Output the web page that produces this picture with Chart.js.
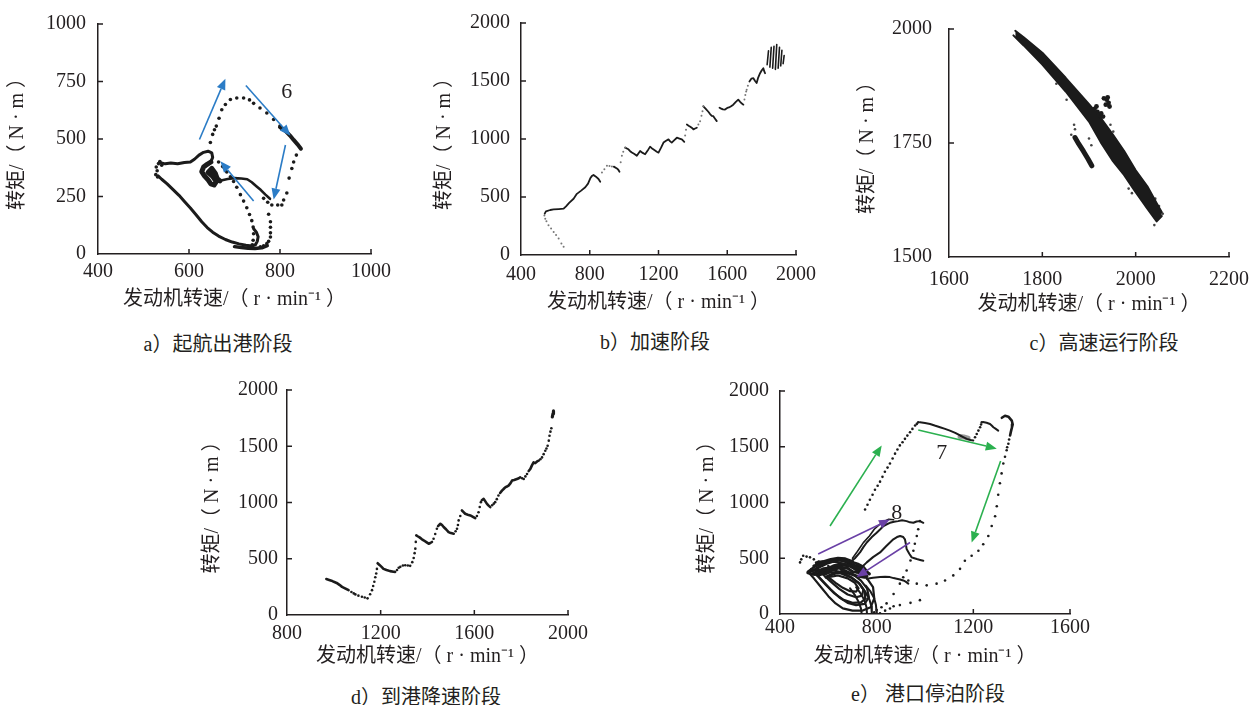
<!DOCTYPE html>
<html lang="zh">
<head>
<meta charset="utf-8">
<title>各航行阶段发动机转速-转矩分布</title>
<script src="https://cdn.jsdelivr.net/npm/chart.js@4.4.1/dist/chart.umd.min.js"></script>
<style>
  html, body { margin: 0; padding: 0; background: #fff; }
  body { width: 1260px; height: 705px; position: relative; overflow: hidden; }
  canvas { position: absolute; }
  .caption {
    position: absolute; transform: translate(-50%, -50%); white-space: nowrap;
    font: 20px 'Liberation Serif', 'Noto Sans CJK SC', serif; color: #231f20;
  }
</style>
</head>
<body>
<canvas id="chart-a"></canvas>
<canvas id="chart-b"></canvas>
<canvas id="chart-c"></canvas>
<canvas id="chart-d"></canvas>
<canvas id="chart-e"></canvas>
<div class="caption" style="left:218px;top:342px">a）起航出港阶段</div>
<div class="caption" style="left:655px;top:340px">b）加速阶段</div>
<div class="caption" style="left:1104px;top:341px">c）高速运行阶段</div>
<div class="caption" style="left:426px;top:695px">d）到港降速阶段</div>
<div class="caption" style="left:928px;top:692px">e） 港口停泊阶段</div>
<script>
// axis ticks [min, max, step]
const aXTicks = [400, 1000, 200], aYTicks = [0, 1000, 250];
const bXTicks = [400, 2000, 400], bYTicks = [0, 2000, 500];
const cXTicks = [1600, 2200, 200], cYTicks = [1500, 2000, 250];
const dXTicks = [800, 2000, 400], dYTicks = [0, 2000, 500];
const eXTicks = [400, 1600, 400], eYTicks = [0, 2000, 500];

const X_TITLE = '发动机转速/（ r · min⁻¹ ）';
const Y_TITLE = '转矩/（ N · m ）';

// a) 起航出港阶段  [转速, 转矩]
const aTailDots = [[531,335],[527,345],[530,362],[528,378],[533,393],[536,402],[540,386]];
const aBand = [[535,398],[548,392],[560,396],[575,392],[590,398],[603,400],[612,412],[622,430],[632,442],[642,447],[650,440],[652,420],[648,400]];
const aBlob = [[648,400],[640,390],[632,378],[628,358],[634,340],[642,322],[648,305],[655,300],[660,315],[652,338],[642,355],[650,372],[658,350],[662,328],[668,318]];
const aReturn = [[668,318],[685,326],[700,330],[715,328],[728,325],[738,312],[748,295],[758,278],[768,258],[778,240]];
const aLowerLeft = [[532,340],[540,325],[552,305],[565,280],[578,255],[590,228],[603,200],[615,172],[628,140],[640,115],[652,95],[665,78],[680,63],[695,52],[710,44],[725,38],[738,35],[746,40],[750,55],[752,75],[748,95],[742,110]];
const aBottom = [[700,32],[715,28],[730,25],[745,24],[760,27],[772,36]];
const aMidDots = [[665,400],[674,380],[683,357],[691,336],[698,315],[705,290],[713,258],[720,230],[727,201],[733,172],[738,145],[741,117],[742,88],[741,60],[739,40]];
const aUpperDots = [[647,485],[652,520],[656,540],[660,556],[666,590],[672,627],[680,650],[691,672],[705,678],[720,678],[733,670],[742,655],[756,635],[771,613],[786,585],[800,556]];
const aTip = [[800,552],[812,535],[822,515],[830,496],[838,478],[846,458]];
const aRightDots = [[836,430],[830,400],[826,372],[820,330],[815,265],[808,235],[804,213],[795,213],[782,213],[773,225],[764,242]];
const aLowerRightDots = [[775,173],[779,140],[779,116],[779,92],[779,74],[775,55],[771,45],[764,36],[757,31]];
const aArrows = [[[623,498],[680,762]], [[725,733],[823,514]], [[812,474],[786,237]], [[742,230],[669,403]]];
const aLabels = [['6', 815, 705]];

// b) 加速阶段
const bDots1 = [[648,71],[635,100],[619,143],[604,172],[590,199],[575,228],[560,256],[548,290],[541,313],[536,340]];
const bSeg1 = [[538,356],[545,376],[570,388],[590,393],[620,396],[648,399],[662,420],[680,450],[706,485],[725,527],[750,555],[774,584],[790,615],[803,661],[812,680],[822,690],[836,675],[851,655],[861,632]];
const bDots2 = [[871,712],[885,740],[900,769],[915,768],[929,764]];
const bSeg2 = [[940,762],[958,746],[966,735],[973,718]];
const bDots3 = [[980,800],[987,855],[995,890],[1006,926]];
const bSeg3 = [[1006,926],[1016,918],[1025,911],[1035,895],[1045,883],[1060,870],[1074,855],[1084,878],[1093,897],[1108,880],[1122,869],[1137,900],[1151,934],[1165,915],[1180,900],[1190,890],[1200,883],[1215,925],[1229,969],[1244,985],[1258,997],[1268,980],[1277,969],[1292,990],[1307,1011],[1322,1004],[1336,997],[1350,975]];
const bDots4 = [[1355,1030],[1360,1080]];
const bSeg4 = [[1365,1125],[1375,1115],[1385,1106],[1395,1095],[1403,1083],[1413,1090],[1423,1097]];
const bDots5 = [[1432,1125],[1442,1154],[1450,1200],[1456,1240],[1461,1282]];
const bSeg5 = [[1461,1282],[1475,1260],[1490,1235],[1500,1215],[1510,1200],[1519,1197],[1529,1175],[1539,1154]];
const bSeg6 = [[1555,1270],[1565,1262],[1575,1255],[1587,1254],[1600,1268],[1610,1272],[1620,1280],[1635,1296],[1650,1320],[1664,1339],[1675,1320],[1685,1305],[1694,1296]];
const bDots6 = [[1700,1340],[1705,1380],[1710,1410],[1713,1425],[1720,1460]];
const bSeg7 = [[1729,1496],[1740,1520],[1752,1524],[1762,1500],[1771,1482],[1780,1530],[1791,1567],[1800,1590],[1810,1610],[1815,1585],[1820,1567]];
const bHatch = [
  [[1832,1640],[1840,1760]], [[1848,1620],[1856,1790]], [[1864,1610],[1872,1800]],
  [[1880,1600],[1888,1815]], [[1896,1610],[1904,1790]], [[1911,1630],[1918,1765]], [[1925,1650],[1931,1720]]
];

// c) 高速运行阶段
const cUpper = [[1742,1996],[1760,1982],[1800,1948],[1850,1893],[1900,1835],[1925,1805],[1950,1770],[1975,1733],[2000,1690],[2025,1655],[2045,1618],[2056,1598]];
const cLower = [[1738,1986],[1760,1964],[1800,1922],[1850,1863],[1900,1797],[1925,1752],[1950,1712],[1975,1680],[2000,1642],[2025,1606],[2045,1578],[2056,1590]];
const cSideLow = [[1870,1762],[1878,1748],[1888,1732],[1898,1715],[1906,1700]];
const cSideUp = [[1932,1848],[1938,1845],[1942,1838],[1936,1834],[1944,1830],[1940,1850],[1912,1825],[1918,1818],[1924,1812],[1916,1830],[1926,1815],[1930,1808]];
const cNoise = [[1868,1790],[1870,1780],[1862,1768],[1930,1795],[1946,1790],[1940,1772],[1952,1775],[1905,1745],[1900,1760],[2015,1652],[2020,1640],[2030,1632],[2042,1628],[2050,1612],[2058,1595],[2040,1570],[1985,1650],[1992,1640],[1852,1845],[1830,1880]];

// d) 到港降速阶段
const dSeg1 = [[968,320],[980,312],[990,305],[1000,295],[1012,285],[1024,268],[1035,250],[1050,235],[1063,221]];
const dDots1 = [[1075,205],[1085,192],[1092,183],[1105,172],[1120,162],[1132,155],[1144,148],[1155,185],[1163,221],[1168,258],[1173,295],[1177,335],[1181,369],[1184,410]];
const dSeg2 = [[1187,460],[1195,445],[1205,425],[1212,410],[1225,400],[1240,390],[1255,385],[1262,383]];
const dDots2 = [[1270,400],[1277,420],[1284,428],[1295,440],[1305,442],[1316,440],[1326,437],[1335,470],[1341,507],[1345,550],[1348,590],[1350,650]];
const dSeg3 = [[1352,708],[1358,700],[1366,690],[1375,675],[1385,662],[1395,648],[1405,634],[1412,640],[1419,649]];
const dDots3 = [[1426,678],[1433,720],[1440,767]];
const dSeg4 = [[1445,790],[1455,811],[1462,800],[1469,782],[1480,760],[1490,737],[1500,728],[1512,723]];
const dDots4 = [[1520,745],[1526,767],[1530,800],[1533,841],[1540,880]];
const dSeg5 = [[1547,929],[1554,915],[1561,900],[1572,892],[1583,885],[1594,873],[1604,861]];
const dDots5 = [[1611,880],[1618,914],[1623,960],[1628,1003]];
const dSeg6 = [[1632,1020],[1640,1032],[1647,1010],[1654,988],[1661,972],[1668,959]];
const dDots6 = [[1676,975],[1683,990],[1689,1003],[1696,1030],[1703,1062]];
const dSeg7 = [[1710,1085],[1718,1106],[1725,1120],[1732,1135],[1739,1142],[1746,1150],[1754,1170],[1761,1195],[1770,1200],[1782,1209],[1790,1215],[1796,1224]];
const dDots7 = [[1804,1215],[1811,1209],[1818,1232],[1825,1254]];
const dSeg8 = [[1832,1280],[1839,1298],[1846,1330],[1853,1357],[1860,1350],[1868,1365],[1875,1372]];
const dDots8 = [[1882,1385],[1889,1401],[1896,1430],[1903,1460],[1908,1480],[1913,1504],[1918,1550],[1921,1593],[1925,1630],[1929,1660]];
const dSeg9 = [[1933,1760],[1936,1790],[1938,1814]];

// e) 港口停泊阶段
const eUpDots = [[752,937],[762,980],[772,1025],[783,1070],[793,1114],[804,1150],[814,1187],[824,1230],[834,1276],[845,1313],[855,1350],[866,1395],[876,1438],[886,1475],[896,1512],[907,1540],[917,1571],[927,1600],[938,1630],[948,1660],[959,1690],[966,1705],[972,1719]];
const eTop = [[979,1719],[1000,1712],[1021,1704],[1040,1690],[1062,1675],[1083,1660],[1103,1645],[1125,1625],[1145,1601],[1160,1585],[1173,1571],[1188,1560],[1200,1557]];
const eGray = [[1145,1592],[1160,1588],[1178,1578]];
const eRiseDots = [[1207,1585],[1214,1615],[1221,1645],[1228,1675],[1232,1700],[1235,1719]];
const eZ = [[1240,1722],[1255,1715],[1269,1704],[1276,1690],[1283,1675],[1293,1660],[1303,1645]];
const eHook = [[1318,1760],[1331,1778],[1345,1770],[1359,1734],[1363,1700],[1360,1675],[1356,1640],[1352,1601]];
const eRightDots = [[1348,1565],[1345,1527],[1340,1495],[1338,1468],[1331,1410],[1324,1350],[1317,1261],[1310,1172],[1303,1069],[1297,966],[1290,877],[1276,789],[1262,700],[1241,626],[1221,567],[1193,523],[1165,478],[1145,405],[1117,346],[1083,301],[1048,272],[1007,257],[966,272],[931,301]];
const eLowDots = [[979,833],[972,760],[966,700],[958,630],[952,567],[940,480],[924,390],[910,330],[896,272],[870,180],[841,95],[820,60],[800,35],[790,15]];
const eBottomDots = [[979,124],[940,100],[896,80],[870,70],[855,50],[835,30],[814,6]];
const eLeftDots = [[483,463],[488,490],[496,523],[510,515],[524,508],[540,490],[560,470],[579,449],[600,430],[620,415],[635,405],[655,390],[676,375]];
const eLine1 = [[690,463],[710,500],[731,552],[745,600],[759,641],[780,690],[800,729],[815,760],[828,789],[842,805],[855,818],[872,828],[889,833],[905,840],[924,833],[938,822],[952,818],[965,830],[979,833],[993,818]];
const eLine2 = [[717,375],[738,420],[759,463],[785,510],[814,552],[840,610],[869,670],[884,690],[897,700],[910,690],[917,670],[921,625],[924,582],[935,540],[945,508],[956,500],[966,493],[980,485],[993,478]];
const eLine3 = [[759,316],[785,325],[814,331],[835,335],[855,331],[870,322],[883,316],[897,310],[910,301],[920,290],[931,272]];
const eLine4 = [[700,500],[720,560],[745,640],[770,700],[790,760],[810,800],[830,830],[850,850],[870,845]];
const eLoop1 = [[515,380],[540,320],[570,240],[600,160],[630,95],[660,50],[700,30],[740,30],[775,60],[790,140],[785,240],[760,320],[720,390],[680,440],[630,470],[580,460],[540,420],[515,380]];
const eLoop2 = [[545,370],[575,300],[610,220],[645,150],[680,100],[715,80],[750,90],[768,150],[760,230],[735,300],[700,360],[660,400],[620,420],[580,410],[545,370]];
const eLoop3 = [[580,350],[610,290],[645,225],[680,175],[715,150],[740,165],[745,220],[725,280],[690,330],[650,365],[610,375],[580,350]];
const eLoop4 = [[530,390],[560,330],[590,260],[625,185],[660,130],[700,100],[735,105],[755,140],[752,200],[730,270],[695,330],[655,375],[610,395],[565,395],[530,390]];
const eLoop5 = [[600,330],[630,280],[660,235],[690,205],[715,200],[725,230],[710,280],[680,320],[640,345],[600,330]];
const eArc1 = [[690,230],[710,170],[725,110],[735,50],[738,0]];
const eArc2 = [[715,240],[735,180],[750,120],[758,60],[760,0]];
const eArc3 = [[735,250],[755,190],[770,130],[778,70],[780,0]];
const eArc4 = [[755,255],[775,200],[790,140],[797,80],[800,10]];
const eMass1 = [[520,380],[545,400],[570,430],[600,460],[630,480],[660,485],[690,470],[720,450],[745,420],[760,380]];
const eMass2 = [[530,400],[560,380],[590,400],[620,430],[650,450],[680,440],[710,420],[740,400],[770,360]];
const eMass3 = [[560,350],[590,370],[620,400],[650,420],[680,410],[700,380],[730,370],[760,340]];
const eMass4 = [[540,430],[570,450],[600,475],[640,490],[670,470],[700,440],[730,420]];
const eMass5 = [[590,330],[620,360],[660,380],[690,360],[720,340],[750,330]];
const eMass6 = [[515,370],[540,355],[570,365],[600,390],[630,420],[660,440],[690,430],[715,400],[745,380]];
const eMass7 = [[550,460],[580,470],[610,490],[640,500],[670,495],[700,470]];
const eGreenArrows = [[[607,789],[821,1512]], [[972,1651],[1297,1483]], [[1313,1373],[1193,641]]];
const ePurpleArrows = [[[558,538],[855,848]], [[938,641],[717,331]]];
const eLabels = [['7', 1069, 1438], ['8', 883, 906]];

const INK = '#1b1b1b';
const TEXT = '#231f20';
const FONT = "'Liberation Serif', 'Noto Sans CJK SC', serif";
const BLUE = '#2b7cc6', GREEN = '#2bb04f', PURPLE = '#6a40a6';

Chart.defaults.font.family = FONT;
Chart.defaults.color = TEXT;

const xy = pts => pts.map(([x, y]) => ({ x, y }));

function dots(pts, r = 1.6, color = INK) {
    return { data: xy(pts), showLine: false, pointRadius: r, pointBackgroundColor: color, pointBorderWidth: 0 };
}

function trace(pts, w = 2.4, color = INK) {
    return {
        data: xy(pts), showLine: true, borderColor: color, borderWidth: w, pointRadius: 0,
        borderCapStyle: 'round', borderJoinStyle: 'round', fill: false, tension: 0,
    };
}

function drawArrow(ctx, x1, y1, x2, y2, color) {
    const ang = Math.atan2(y2 - y1, x2 - x1);
    const len = 11, half = 4.5;
    const bx = x2 - len * Math.cos(ang), by = y2 - len * Math.sin(ang);
    ctx.strokeStyle = color; ctx.fillStyle = color; ctx.lineWidth = 1.6;
    ctx.beginPath(); ctx.moveTo(x1, y1); ctx.lineTo(bx, by); ctx.stroke();
    ctx.beginPath();
    ctx.moveTo(x2, y2);
    ctx.lineTo(bx + half * Math.sin(ang), by - half * Math.cos(ang));
    ctx.lineTo(bx - half * Math.sin(ang), by + half * Math.cos(ang));
    ctx.closePath(); ctx.fill();
}

// tick marks point into the plot, like the printed figure
const innerTicks = {
    id: 'innerTicks',
    afterDraw(chart) {
        const { ctx, chartArea: area, scales: { x, y } } = chart;
        ctx.save();
        ctx.strokeStyle = TEXT; ctx.lineWidth = 1.5;
        ctx.beginPath();
        x.ticks.forEach(t => {
            if (t.value === x.min) return;
            const px = x.getPixelForValue(t.value);
            ctx.moveTo(px, area.bottom); ctx.lineTo(px, area.bottom - 5);
        });
        y.ticks.forEach(t => {
            if (t.value === y.min) return;
            const py = y.getPixelForValue(t.value);
            ctx.moveTo(area.left, py); ctx.lineTo(area.left + 5, py);
        });
        ctx.stroke();
        ctx.restore();
    }
};

function annotations(arrowSets, labels) {
    return {
        id: 'annot',
        afterDatasetsDraw(chart) {
            const { ctx, scales: { x, y } } = chart;
            ctx.save();
            arrowSets.forEach(([list, color]) => list.forEach(([a, b]) => {
                drawArrow(ctx, x.getPixelForValue(a[0]), y.getPixelForValue(a[1]),
                    x.getPixelForValue(b[0]), y.getPixelForValue(b[1]), color);
            }));
            ctx.fillStyle = TEXT;
            ctx.font = '22px ' + FONT;
            ctx.textAlign = 'center'; ctx.textBaseline = 'middle';
            labels.forEach(([t, vx, vy]) => ctx.fillText(t, x.getPixelForValue(vx), y.getPixelForValue(vy)));
            ctx.restore();
        }
    };
}

function axis(ticks, pad, fit, title) {
    return {
        type: 'linear', min: ticks[0], max: ticks[1],
        afterFit: fit,
        grid: { display: true, drawOnChartArea: false, drawTicks: false },
        border: { display: true, color: TEXT, width: 1.5 },
        ticks: {
            stepSize: ticks[2], padding: pad, font: { size: 20 }, color: TEXT,
            maxRotation: 0, autoSkip: false, callback: v => String(v),
        },
        title: { display: true, text: title.text, font: { size: 20 }, color: TEXT, padding: title.padding },
    };
}

function makePanel(p) {
    const canvas = document.getElementById(p.id);
    canvas.width = p.w; canvas.height = p.h;
    canvas.style.left = p.left + 'px'; canvas.style.top = p.top + 'px';
    return new Chart(canvas, {
        type: 'scatter',
        data: { datasets: p.datasets },
        options: {
            responsive: false,
            animation: false,
            events: [],
            layout: { padding: { left: 0, top: p.padTop, right: p.padRight, bottom: 0 } },
            plugins: { legend: { display: false }, tooltip: { enabled: false } },
            scales: {
                x: axis(p.xTicks, p.xPad, s => { s.height = p.xh; }, { text: X_TITLE, padding: { top: 0, bottom: 0 } }),
                y: axis(p.yTicks, p.yPad, s => { s.width = p.yw; }, { text: Y_TITLE, padding: { top: 6, bottom: 0 } }),
            },
        },
        plugins: [innerTicks, annotations(p.arrows || [], p.labels || [])],
    });
}

makePanel({
    id: 'chart-a', left: 0, top: 0, w: 400, h: 312, padTop: 19, padRight: 29, yw: 98, xh: 58, xPad: 6, yPad: 12,
    xTicks: aXTicks, yTicks: aYTicks,
    datasets: [
        dots(aTailDots, 1.8), trace(aBand, 3), trace(aBlob, 5), trace(aReturn, 2.6),
        trace(aLowerLeft, 3), trace(aBottom, 3.5), dots(aMidDots, 1.8), dots(aUpperDots, 1.8),
        trace(aTip, 4), dots(aRightDots, 1.8), dots(aLowerRightDots, 1.8),
    ],
    arrows: [[aArrows, BLUE]], labels: aLabels,
});

makePanel({
    id: 'chart-b', left: 427, top: 0, w: 398, h: 315, padTop: 21, padRight: 29, yw: 94, xh: 60, xPad: 8, yPad: 11,
    xTicks: bXTicks, yTicks: bYTicks,
    datasets: [
        dots(bDots1, 1, '#777'), trace(bSeg1, 1.8), dots(bDots2, 1, '#777'), trace(bSeg2, 1.8),
        dots(bDots3, 1, '#777'), trace(bSeg3, 1.8), dots(bDots4, 1, '#777'), trace(bSeg4, 1.8),
        dots(bDots5, 1, '#777'), trace(bSeg5, 1.8), trace(bSeg6, 1.8), dots(bDots6, 1, '#777'),
        trace(bSeg7, 1.8), ...bHatch.map(h => trace(h, 1.6)),
    ],
});

makePanel({
    id: 'chart-c', left: 850, top: 0, w: 410, h: 317, padTop: 21, padRight: 27, yw: 99, xh: 60, xPad: 11, yPad: 17,
    xTicks: cXTicks, yTicks: cYTicks,
    datasets: [
        { ...trace(cUpper, 2), fill: '+1', backgroundColor: INK },
        trace(cLower, 2),
        trace(cSideLow, 5),
        dots(cSideUp, 2.4),
        dots(cNoise, 1.3, '#444'),
    ],
});

makePanel({
    id: 'chart-d', left: 195, top: 369, w: 403, h: 300, padTop: 20, padRight: 30, yw: 92, xh: 54, xPad: 7, yPad: 9,
    xTicks: dXTicks, yTicks: dYTicks,
    datasets: [
        trace(dSeg1, 2.6), dots(dDots1, 1.3), trace(dSeg2, 2.6), dots(dDots2, 1.3), trace(dSeg3, 2.6),
        dots(dDots3, 1.3), trace(dSeg4, 2.6), dots(dDots4, 1.3), trace(dSeg5, 2.6), dots(dDots5, 1.3),
        trace(dSeg6, 2.6), dots(dDots6, 1.3), trace(dSeg7, 2.6), dots(dDots7, 1.3), trace(dSeg8, 2.6),
        dots(dDots8, 1.3), trace(dSeg9, 3.2),
    ],
});

makePanel({
    id: 'chart-e', left: 690, top: 368, w: 410, h: 301, padTop: 20, padRight: 30, yw: 90, xh: 55, xPad: 2, yPad: 11,
    xTicks: eXTicks, yTicks: eYTicks,
    datasets: [
        dots(eUpDots, 1.3), trace(eTop, 2), trace(eGray, 5, '#999'), dots(eRiseDots, 1.3), trace(eZ, 2),
        trace(eHook, 2.6), dots(eRightDots, 1.3), dots(eLowDots, 1.3), dots(eBottomDots, 1.3), dots(eLeftDots, 1.3),
        trace(eLine1, 2), trace(eLine2, 2), trace(eLine3, 2), trace(eLine4, 1.6),
        trace(eLoop1, 2.2), trace(eLoop2, 2.2), trace(eLoop3, 2.2), trace(eLoop4, 2.2), trace(eLoop5, 2.2),
        trace(eArc1, 2), trace(eArc2, 2), trace(eArc3, 2), trace(eArc4, 2),
        trace(eMass1, 3), trace(eMass2, 3), trace(eMass3, 3), trace(eMass4, 3), trace(eMass5, 3),
        trace(eMass6, 3), trace(eMass7, 3),
    ],
    arrows: [[eGreenArrows, GREEN], [ePurpleArrows, PURPLE]], labels: eLabels,
});
</script>
</body>
</html>
